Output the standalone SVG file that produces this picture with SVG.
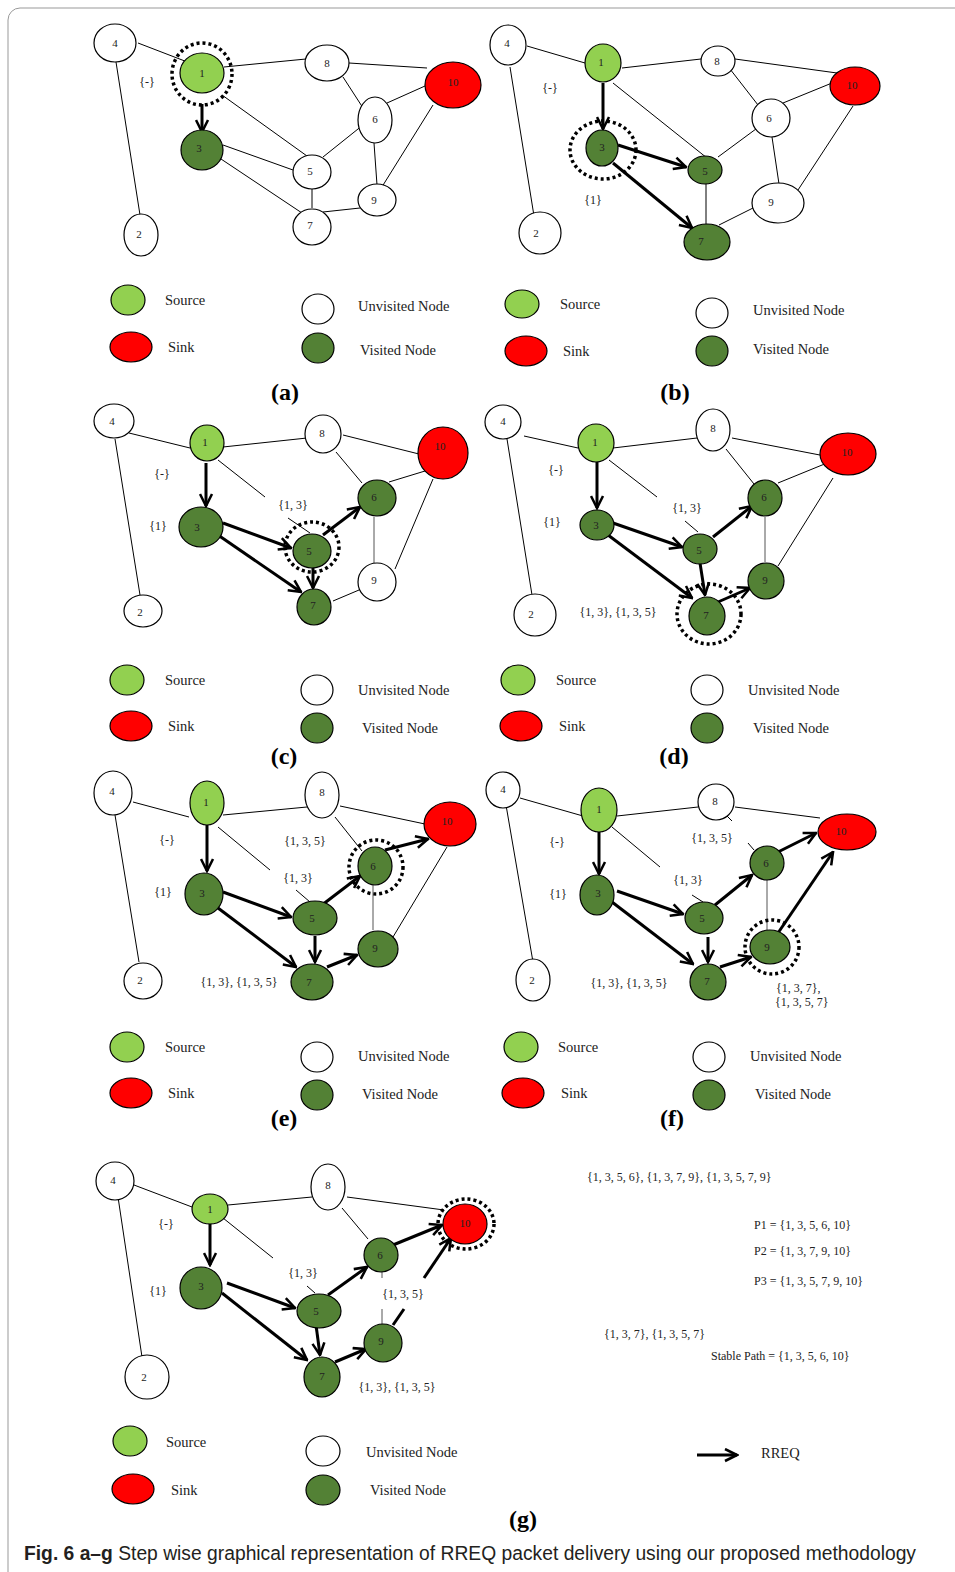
<svg xmlns="http://www.w3.org/2000/svg" width="955" height="1572" viewBox="0 0 955 1572">
<style>
.e{stroke:#000;stroke-width:1;fill:none}
.gr{stroke:#555;stroke-width:1;fill:none}
.a{stroke:#000;stroke-width:3;fill:none;marker-end:url(#ah)}
.w{fill:#fff;stroke:#000;stroke-width:1.2}
.s{fill:#92D050;stroke:#000;stroke-width:1.2}
.r{fill:#FF0000;stroke:#000;stroke-width:1.2}
.v{fill:#538135;stroke:#000;stroke-width:1.2}
.ring{fill:none;stroke:#000;stroke-width:3.5;stroke-dasharray:3 3}
text{font-family:"Liberation Serif","Times New Roman",serif;fill:#222}
.t{font-size:11px;text-anchor:middle;dominant-baseline:central}
.l{font-size:12px;text-anchor:middle;dominant-baseline:central}
.rt{font-size:12px}
.lg{font-size:14.5px}
.sub{font-size:24px;font-weight:bold;text-anchor:middle;fill:#000}
.cap{font-family:"Liberation Sans",Arial,sans-serif;font-size:20px;fill:#231f20}
</style>
<defs>
<marker id="ah" viewBox="0 0 10 10" refX="9" refY="5" markerWidth="5" markerHeight="5" orient="auto">
<path d="M1,1 L9,5 L1,9" fill="none" stroke="#000" stroke-width="1.7"/>
</marker>
</defs>
<path d="M8,1572 V20 A12,12 0 0 1 20,8 H955" fill="none" stroke="#999" stroke-width="1"/>

<!-- ===== Panel a ===== -->
<g id="conn-a">
<line class="e" x1="138" y1="43" x2="190" y2="63"/>
<line class="e" x1="116" y1="62" x2="140" y2="215"/>
<line class="e" x1="224" y1="67" x2="306" y2="59"/>
<line class="e" x1="222" y1="95" x2="307" y2="156"/>
<line class="e" x1="349" y1="63" x2="427" y2="68"/>
<line class="e" x1="343" y1="77" x2="365" y2="111"/>
<line class="e" x1="387" y1="103" x2="425" y2="86"/>
<line class="e" x1="363" y1="125" x2="323" y2="157"/>
<line class="e" x1="374" y1="143" x2="377" y2="185"/>
<line class="e" x1="380" y1="190" x2="433" y2="105"/>
<line class="e" x1="223" y1="145" x2="293" y2="170"/>
<line class="e" x1="218" y1="157" x2="302" y2="213"/>
<line class="e" x1="312" y1="188" x2="312" y2="208"/>
<line class="e" x1="323" y1="212" x2="360" y2="208"/>
<line class="a" x1="202" y1="104" x2="202" y2="132"/>
</g>
<g id="a-n4"><ellipse class="w" cx="115" cy="43" rx="21" ry="19"/><text class="t" x="115" y="43">4</text></g>
<g id="a-n1"><ellipse class="s" cx="202" cy="73" rx="22" ry="20"/><ellipse class="ring" cx="202" cy="74" rx="30" ry="31"/><text class="t" x="202" y="73">1</text></g>
<g id="a-n8"><ellipse class="w" cx="327" cy="63" rx="22" ry="18"/><text class="t" x="327" y="63">8</text></g>
<g id="a-n10"><ellipse class="r" cx="453" cy="85" rx="28" ry="23"/><text class="t" x="453" y="82">10</text></g>
<g id="a-n6"><ellipse class="w" cx="375" cy="120" rx="17" ry="23"/><text class="t" x="375" y="119">6</text></g>
<g id="a-n3"><ellipse class="v" cx="202" cy="150" rx="21" ry="20"/><text class="t" x="199" y="148">3</text></g>
<g id="a-n5"><ellipse class="w" cx="312" cy="172" rx="19" ry="17"/><text class="t" x="310" y="171">5</text></g>
<g id="a-n9"><ellipse class="w" cx="377" cy="200" rx="19" ry="16"/><text class="t" x="374" y="200">9</text></g>
<g id="a-n7"><ellipse class="w" cx="312" cy="227" rx="19" ry="18"/><text class="t" x="310" y="225">7</text></g>
<g id="a-n2"><ellipse class="w" cx="141" cy="235" rx="17" ry="21"/><text class="t" x="139" y="234">2</text></g>
<text class="l" x="147" y="82">{-}</text>
<g id="legend-a">
<ellipse class="s" cx="128" cy="300" rx="17" ry="15"/><text class="lg" x="165" y="305">Source</text>
<ellipse class="r" cx="131" cy="347" rx="21" ry="15"/><text class="lg" x="168" y="352">Sink</text>
<ellipse class="w" cx="318" cy="309" rx="16" ry="15"/><text class="lg" x="358" y="311">Unvisited Node</text>
<ellipse class="v" cx="318" cy="348" rx="16" ry="15"/><text class="lg" x="360" y="355">Visited Node</text>
<text class="sub" x="285" y="400">(a)</text>
</g>

<!-- ===== Panel b ===== -->
<g id="conn-b">
<line class="e" x1="527" y1="46" x2="585" y2="63"/>
<line class="e" x1="510" y1="67" x2="534" y2="216"/>
<line class="e" x1="622" y1="68" x2="701" y2="59"/>
<line class="e" x1="613" y1="83" x2="707" y2="158"/>
<line class="e" x1="735" y1="59" x2="837" y2="73"/>
<line class="e" x1="730" y1="69" x2="758" y2="105"/>
<line class="e" x1="783" y1="103" x2="832" y2="83"/>
<line class="e" x1="760" y1="126" x2="718" y2="157"/>
<line class="e" x1="772" y1="137" x2="779" y2="184"/>
<line class="e" x1="798" y1="190" x2="853" y2="106"/>
<line class="e" x1="706" y1="183" x2="706" y2="224"/>
<line class="e" x1="719" y1="225" x2="753" y2="208"/>
<line class="a" x1="603" y1="83" x2="603" y2="129"/>
<line class="a" x1="618" y1="145" x2="686" y2="167"/>
<line class="a" x1="613" y1="163" x2="692" y2="228"/>
</g>
<g id="b-n4"><ellipse class="w" cx="508" cy="45" rx="18" ry="20"/><text class="t" x="507" y="43">4</text></g>
<g id="b-n1"><ellipse class="s" cx="603" cy="63" rx="18" ry="19"/><text class="t" x="601" y="62">1</text></g>
<g id="b-n8"><ellipse class="w" cx="718" cy="61" rx="17" ry="15"/><text class="t" x="717" y="61">8</text></g>
<g id="b-n10"><ellipse class="r" cx="855" cy="86" rx="25" ry="19"/><text class="t" x="852" y="85">10</text></g>
<g id="b-n6"><ellipse class="w" cx="771" cy="118" rx="19" ry="19"/><text class="t" x="769" y="118">6</text></g>
<g id="b-n3"><ellipse class="v" cx="602" cy="148" rx="16" ry="18"/><ellipse class="ring" cx="603" cy="150" rx="33" ry="29"/><text class="t" x="602" y="147">3</text></g>
<g id="b-n5"><ellipse class="v" cx="705" cy="170" rx="17" ry="14"/><text class="t" x="705" y="171">5</text></g>
<g id="b-n9"><ellipse class="w" cx="778" cy="203" rx="26" ry="20"/><text class="t" x="771" y="202">9</text></g>
<g id="b-n7"><ellipse class="v" cx="707" cy="242" rx="23" ry="18"/><text class="t" x="701" y="241">7</text></g>
<g id="b-n2"><ellipse class="w" cx="540" cy="233" rx="21" ry="21"/><text class="t" x="536" y="233">2</text></g>
<text class="l" x="550" y="88">{-}</text>
<text class="l" x="593" y="200">{1}</text>
<g id="legend-b">
<ellipse class="s" cx="522" cy="304" rx="17" ry="14"/><text class="lg" x="560" y="309">Source</text>
<ellipse class="r" cx="526" cy="351" rx="21" ry="15"/><text class="lg" x="563" y="356">Sink</text>
<ellipse class="w" cx="712" cy="313" rx="16" ry="15"/><text class="lg" x="753" y="315">Unvisited Node</text>
<ellipse class="v" cx="712" cy="351" rx="16" ry="15"/><text class="lg" x="753" y="354">Visited Node</text>
<text class="sub" x="675" y="400">(b)</text>
</g>

<!-- ===== Panel c ===== -->
<g id="conn-c">
<line class="e" x1="129" y1="433" x2="190" y2="448"/>
<line class="e" x1="115" y1="439" x2="140" y2="595"/>
<line class="e" x1="223" y1="447" x2="307" y2="438"/>
<line class="e" x1="218" y1="460" x2="265" y2="497"/>
<line class="e" x1="288" y1="518" x2="310" y2="533"/>
<line class="e" x1="343" y1="435" x2="419" y2="454"/>
<line class="e" x1="336" y1="452" x2="362" y2="483"/>
<line class="e" x1="389" y1="482" x2="425" y2="471"/>
<line class="gr" x1="374" y1="517" x2="374" y2="563"/>
<line class="e" x1="395" y1="569" x2="433" y2="479"/>
<line class="e" x1="333" y1="601" x2="359" y2="590"/>
<line class="a" x1="206" y1="463" x2="206" y2="506"/>
<line class="a" x1="223" y1="523" x2="291" y2="548"/>
<line class="a" x1="218" y1="535" x2="301" y2="592"/>
<line class="a" x1="323" y1="535" x2="360" y2="507"/>
<line class="a" x1="313" y1="566" x2="313" y2="588"/>
</g>
<g id="c-n4"><ellipse class="w" cx="114" cy="421" rx="20" ry="17"/><text class="t" x="112" y="421">4</text></g>
<g id="c-n1"><ellipse class="s" cx="207" cy="443" rx="17" ry="18"/><text class="t" x="205" y="442">1</text></g>
<g id="c-n8"><ellipse class="w" cx="323" cy="434" rx="18" ry="19"/><text class="t" x="322" y="433">8</text></g>
<g id="c-n10"><ellipse class="r" cx="443" cy="453" rx="25" ry="26"/><text class="t" x="440" y="446">10</text></g>
<g id="c-n6"><ellipse class="v" cx="377" cy="498" rx="19" ry="18"/><text class="t" x="374" y="497">6</text></g>
<g id="c-n3"><ellipse class="v" cx="201" cy="527" rx="22" ry="20"/><text class="t" x="197" y="527">3</text></g>
<g id="c-n5"><ellipse class="v" cx="312" cy="551" rx="19" ry="17"/><ellipse class="ring" cx="312" cy="547" rx="27" ry="25"/><text class="t" x="309" y="551">5</text></g>
<g id="c-n9"><ellipse class="w" cx="377" cy="582" rx="19" ry="19"/><text class="t" x="374" y="580">9</text></g>
<g id="c-n7"><ellipse class="v" cx="314" cy="607" rx="17" ry="18"/><text class="t" x="313" y="605">7</text></g>
<g id="c-n2"><ellipse class="w" cx="143" cy="611" rx="19" ry="16"/><text class="t" x="140" y="612">2</text></g>
<text class="l" x="162" y="474">{-}</text>
<text class="l" x="158" y="526">{1}</text>
<text class="l" x="293" y="505">{1, 3}</text>
<g id="legend-c">
<ellipse class="s" cx="127" cy="680" rx="17" ry="15"/><text class="lg" x="165" y="685">Source</text>
<ellipse class="r" cx="131" cy="726" rx="21" ry="15"/><text class="lg" x="168" y="731">Sink</text>
<ellipse class="w" cx="317" cy="690" rx="16" ry="15"/><text class="lg" x="358" y="695">Unvisited Node</text>
<ellipse class="v" cx="317" cy="728" rx="16" ry="15"/><text class="lg" x="362" y="733">Visited Node</text>
<text class="sub" x="284" y="764">(c)</text>
</g>

<!-- ===== Panel d ===== -->
<g id="conn-d">
<line class="e" x1="524" y1="436" x2="578" y2="448"/>
<line class="e" x1="507" y1="439" x2="532" y2="595"/>
<line class="e" x1="613" y1="448" x2="697" y2="438"/>
<line class="e" x1="609" y1="460" x2="657" y2="497"/>
<line class="e" x1="685" y1="521" x2="698" y2="532"/>
<line class="e" x1="732" y1="438" x2="825" y2="456"/>
<line class="e" x1="726" y1="449" x2="754" y2="484"/>
<line class="e" x1="778" y1="483" x2="827" y2="463"/>
<line class="gr" x1="765" y1="517" x2="765" y2="562"/>
<line class="e" x1="778" y1="566" x2="833" y2="478"/>
<line class="a" x1="597" y1="462" x2="597" y2="508"/>
<line class="a" x1="613" y1="523" x2="682" y2="547"/>
<line class="a" x1="608" y1="535" x2="692" y2="598"/>
<line class="a" x1="713" y1="537" x2="752" y2="506"/>
<line class="a" x1="700" y1="563" x2="705" y2="595"/>
<line class="a" x1="718" y1="602" x2="750" y2="588"/>
</g>
<g id="d-n4"><ellipse class="w" cx="503" cy="422" rx="18" ry="17"/><text class="t" x="503" y="421">4</text></g>
<g id="d-n1"><ellipse class="s" cx="596" cy="443" rx="18" ry="19"/><text class="t" x="595" y="442">1</text></g>
<g id="d-n8"><ellipse class="w" cx="713" cy="430" rx="17" ry="21"/><text class="t" x="713" y="428">8</text></g>
<g id="d-n10"><ellipse class="r" cx="848" cy="454" rx="28" ry="21"/><text class="t" x="847" y="452">10</text></g>
<g id="d-n6"><ellipse class="v" cx="765" cy="498" rx="17" ry="18"/><text class="t" x="764" y="497">6</text></g>
<g id="d-n3"><ellipse class="v" cx="597" cy="525" rx="17" ry="15"/><text class="t" x="596" y="525">3</text></g>
<g id="d-n5"><ellipse class="v" cx="700" cy="549" rx="17" ry="15"/><text class="t" x="699" y="550">5</text></g>
<g id="d-n9"><ellipse class="v" cx="766" cy="581" rx="18" ry="18"/><text class="t" x="765" y="580">9</text></g>
<g id="d-n7"><ellipse class="v" cx="707" cy="616" rx="18" ry="19"/><ellipse class="ring" cx="709" cy="614" rx="32" ry="30"/><text class="t" x="706" y="615">7</text></g>
<g id="d-n2"><ellipse class="w" cx="535" cy="615" rx="21" ry="21"/><text class="t" x="531" y="614">2</text></g>
<text class="l" x="556" y="470">{-}</text>
<text class="l" x="552" y="522">{1}</text>
<text class="l" x="687" y="508">{1, 3}</text>
<text class="l" x="618" y="612">{1, 3}, {1, 3, 5}</text>
<g id="legend-d">
<ellipse class="s" cx="518" cy="680" rx="17" ry="15"/><text class="lg" x="556" y="685">Source</text>
<ellipse class="r" cx="521" cy="726" rx="21" ry="15"/><text class="lg" x="559" y="731">Sink</text>
<ellipse class="w" cx="707" cy="690" rx="16" ry="15"/><text class="lg" x="748" y="695">Unvisited Node</text>
<ellipse class="v" cx="707" cy="728" rx="16" ry="15"/><text class="lg" x="753" y="733">Visited Node</text>
<text class="sub" x="674" y="764">(d)</text>
</g>

<!-- ===== Panel e ===== -->
<g id="conn-e">
<line class="e" x1="133" y1="802" x2="189" y2="817"/>
<line class="e" x1="115" y1="815" x2="139" y2="962"/>
<line class="e" x1="223" y1="815" x2="307" y2="807"/>
<line class="e" x1="218" y1="827" x2="270" y2="870"/>
<line class="e" x1="296" y1="890" x2="310" y2="902"/>
<line class="e" x1="340" y1="806" x2="425" y2="824"/>
<line class="e" x1="335" y1="817" x2="362" y2="851"/>
<line class="gr" x1="373" y1="885" x2="373" y2="930"/>
<line class="e" x1="393" y1="937" x2="447" y2="847"/>
<line class="a" x1="207" y1="825" x2="207" y2="871"/>
<line class="a" x1="223" y1="892" x2="291" y2="917"/>
<line class="a" x1="218" y1="908" x2="296" y2="967"/>
<line class="a" x1="322" y1="905" x2="360" y2="876"/>
<line class="a" x1="315" y1="936" x2="315" y2="962"/>
<line class="a" x1="327" y1="967" x2="357" y2="955"/>
<line class="a" x1="385" y1="850" x2="428" y2="839"/>
</g>
<g id="e-n4"><ellipse class="w" cx="113" cy="793" rx="19" ry="22"/><text class="t" x="112" y="791">4</text></g>
<g id="e-n1"><ellipse class="s" cx="207" cy="803" rx="17" ry="22"/><text class="t" x="206" y="802">1</text></g>
<g id="e-n8"><ellipse class="w" cx="322" cy="795" rx="17" ry="23"/><text class="t" x="322" y="792">8</text></g>
<g id="e-n10"><ellipse class="r" cx="450" cy="824" rx="26" ry="22"/><text class="t" x="447" y="821">10</text></g>
<g id="e-n6"><ellipse class="v" cx="375" cy="866" rx="17" ry="19"/><ellipse class="ring" cx="376" cy="867" rx="27" ry="27"/><text class="t" x="373" y="866">6</text></g>
<g id="e-n3"><ellipse class="v" cx="204" cy="894" rx="19" ry="21"/><text class="t" x="202" y="893">3</text></g>
<g id="e-n5"><ellipse class="v" cx="315" cy="918" rx="22" ry="17"/><text class="t" x="312" y="918">5</text></g>
<g id="e-n9"><ellipse class="v" cx="378" cy="949" rx="20" ry="18"/><text class="t" x="375" y="948">9</text></g>
<g id="e-n7"><ellipse class="v" cx="312" cy="982" rx="21" ry="18"/><text class="t" x="309" y="982">7</text></g>
<g id="e-n2"><ellipse class="w" cx="143" cy="981" rx="19" ry="18"/><text class="t" x="140" y="980">2</text></g>
<text class="l" x="167" y="840">{-}</text>
<text class="l" x="163" y="892">{1}</text>
<text class="l" x="305" y="841">{1, 3, 5}</text>
<text class="l" x="298" y="878">{1, 3}</text>
<text class="l" x="239" y="982">{1, 3}, {1, 3, 5}</text>
<g id="legend-e">
<ellipse class="s" cx="127" cy="1047" rx="17" ry="15"/><text class="lg" x="165" y="1052">Source</text>
<ellipse class="r" cx="131" cy="1093" rx="21" ry="15"/><text class="lg" x="168" y="1098">Sink</text>
<ellipse class="w" cx="317" cy="1057" rx="16" ry="15"/><text class="lg" x="358" y="1061">Unvisited Node</text>
<ellipse class="v" cx="317" cy="1095" rx="16" ry="15"/><text class="lg" x="362" y="1099">Visited Node</text>
<text class="sub" x="284" y="1126">(e)</text>
</g>

<!-- ===== Panel f ===== -->
<g id="conn-f">
<line class="e" x1="520" y1="798" x2="583" y2="816"/>
<line class="e" x1="506" y1="805" x2="533" y2="962"/>
<line class="e" x1="617" y1="816" x2="698" y2="807"/>
<line class="e" x1="612" y1="827" x2="660" y2="867"/>
<line class="e" x1="692" y1="895" x2="703" y2="902"/>
<line class="e" x1="735" y1="807" x2="820" y2="818"/>
<line class="e" x1="727" y1="816" x2="732" y2="821"/>
<line class="e" x1="748" y1="843" x2="754" y2="850"/>
<line class="gr" x1="767" y1="872" x2="767" y2="930"/>
<line class="a" x1="599" y1="832" x2="599" y2="874"/>
<line class="a" x1="617" y1="891" x2="683" y2="914"/>
<line class="a" x1="612" y1="902" x2="693" y2="964"/>
<line class="a" x1="715" y1="905" x2="752" y2="875"/>
<line class="a" x1="708" y1="937" x2="708" y2="962"/>
<line class="a" x1="720" y1="967" x2="751" y2="957"/>
<line class="a" x1="778" y1="852" x2="816" y2="833"/>
<line class="a" x1="778" y1="933" x2="833" y2="852"/>
</g>
<g id="f-n4"><ellipse class="w" cx="503" cy="790" rx="17" ry="18"/><text class="t" x="503" y="789">4</text></g>
<g id="f-n1"><ellipse class="s" cx="599" cy="810" rx="18" ry="22"/><text class="t" x="599" y="809">1</text></g>
<g id="f-n8"><ellipse class="w" cx="716" cy="802" rx="18" ry="18"/><text class="t" x="715" y="801">8</text></g>
<g id="f-n10"><ellipse class="r" cx="847" cy="832" rx="29" ry="18"/><text class="t" x="841" y="831">10</text></g>
<g id="f-n6"><ellipse class="v" cx="767" cy="863" rx="17" ry="17"/><text class="t" x="766" y="863">6</text></g>
<g id="f-n3"><ellipse class="v" cx="597" cy="895" rx="17" ry="20"/><text class="t" x="598" y="893">3</text></g>
<g id="f-n5"><ellipse class="v" cx="704" cy="918" rx="19" ry="16"/><text class="t" x="702" y="918">5</text></g>
<g id="f-n9"><ellipse class="v" cx="770" cy="947" rx="20" ry="17"/><ellipse class="ring" cx="772" cy="947" rx="27" ry="27"/><text class="t" x="767" y="947">9</text></g>
<g id="f-n7"><ellipse class="v" cx="708" cy="982" rx="18" ry="18"/><text class="t" x="707" y="981">7</text></g>
<g id="f-n2"><ellipse class="w" cx="533" cy="980" rx="17" ry="21"/><text class="t" x="532" y="980">2</text></g>
<text class="l" x="557" y="842">{-}</text>
<text class="l" x="558" y="894">{1}</text>
<text class="l" x="712" y="838">{1, 3, 5}</text>
<text class="l" x="688" y="880">{1, 3}</text>
<text class="l" x="629" y="983">{1, 3}, {1, 3, 5}</text>
<text class="rt" x="776" y="992">{1, 3, 7},</text>
<text class="rt" x="775" y="1006">{1, 3, 5, 7}</text>
<g id="legend-f">
<ellipse class="s" cx="521" cy="1047" rx="17" ry="15"/><text class="lg" x="558" y="1052">Source</text>
<ellipse class="r" cx="523" cy="1093" rx="21" ry="15"/><text class="lg" x="561" y="1098">Sink</text>
<ellipse class="w" cx="709" cy="1057" rx="16" ry="15"/><text class="lg" x="750" y="1061">Unvisited Node</text>
<ellipse class="v" cx="709" cy="1095" rx="16" ry="15"/><text class="lg" x="755" y="1099">Visited Node</text>
<text class="sub" x="672" y="1126">(f)</text>
</g>

<!-- ===== Panel g ===== -->
<g id="conn-g">
<line class="e" x1="134" y1="1185" x2="192" y2="1207"/>
<line class="e" x1="118" y1="1197" x2="142" y2="1357"/>
<line class="e" x1="228" y1="1205" x2="312" y2="1197"/>
<line class="e" x1="223" y1="1218" x2="273" y2="1258"/>
<line class="e" x1="307" y1="1286" x2="315" y2="1293"/>
<line class="e" x1="347" y1="1197" x2="444" y2="1210"/>
<line class="e" x1="342" y1="1208" x2="368" y2="1239"/>
<line class="gr" x1="382" y1="1271" x2="382" y2="1278"/>
<line class="gr" x1="382" y1="1309" x2="382" y2="1325"/>
<line class="a" x1="210" y1="1222" x2="210" y2="1265"/>
<line class="a" x1="227" y1="1283" x2="295" y2="1308"/>
<line class="a" x1="222" y1="1293" x2="307" y2="1360"/>
<line class="a" x1="328" y1="1295" x2="367" y2="1267"/>
<line class="a" x1="316" y1="1325" x2="320" y2="1355"/>
<line class="a" x1="335" y1="1362" x2="366" y2="1349"/>
<line class="a" x1="393" y1="1245" x2="442" y2="1225"/>
<line class="e" style="stroke-width:3" x1="393" y1="1325" x2="404" y2="1309"/>
<line class="a" x1="424" y1="1278" x2="451" y2="1238"/>
</g>
<g id="g-n4"><ellipse class="w" cx="115" cy="1181" rx="19" ry="19"/><text class="t" x="113" y="1180">4</text></g>
<g id="g-n1"><ellipse class="s" cx="210" cy="1209" rx="18" ry="15"/><text class="t" x="210" y="1209">1</text></g>
<g id="g-n8"><ellipse class="w" cx="328" cy="1187" rx="17" ry="23"/><text class="t" x="328" y="1185">8</text></g>
<g id="g-n10"><ellipse class="r" cx="465" cy="1224" rx="22" ry="20"/><ellipse class="ring" cx="466" cy="1224" rx="28" ry="25"/><text class="t" x="465" y="1223">10</text></g>
<g id="g-n6"><ellipse class="v" cx="381" cy="1255" rx="17" ry="17"/><text class="t" x="380" y="1255">6</text></g>
<g id="g-n3"><ellipse class="v" cx="201" cy="1288" rx="21" ry="21"/><text class="t" x="201" y="1286">3</text></g>
<g id="g-n5"><ellipse class="v" cx="319" cy="1311" rx="22" ry="17"/><text class="t" x="316" y="1311">5</text></g>
<g id="g-n9"><ellipse class="v" cx="383" cy="1343" rx="19" ry="19"/><text class="t" x="381" y="1341">9</text></g>
<g id="g-n7"><ellipse class="v" cx="322" cy="1377" rx="18" ry="20"/><text class="t" x="322" y="1376">7</text></g>
<g id="g-n2"><ellipse class="w" cx="147" cy="1377" rx="22" ry="22"/><text class="t" x="144" y="1377">2</text></g>
<text class="l" x="166" y="1224">{-}</text>
<text class="l" x="158" y="1291">{1}</text>
<text class="l" x="303" y="1273">{1, 3}</text>
<text class="l" x="403" y="1294">{1, 3, 5}</text>
<text class="l" x="397" y="1387">{1, 3}, {1, 3, 5}</text>
<g id="paths-g">
<text class="rt" x="587" y="1181">{1, 3, 5, 6}, {1, 3, 7, 9}, {1, 3, 5, 7, 9}</text>
<text class="rt" x="754" y="1229">P1 = {1, 3, 5, 6, 10}</text>
<text class="rt" x="754" y="1255">P2 = {1, 3, 7, 9, 10}</text>
<text class="rt" x="754" y="1285">P3 = {1, 3, 5, 7, 9, 10}</text>
<text class="rt" x="604" y="1338">{1, 3, 7}, {1, 3, 5, 7}</text>
<text class="rt" x="711" y="1360">Stable Path = {1, 3, 5, 6, 10}</text>
</g>
<g id="legend-g">
<ellipse class="s" cx="130" cy="1441" rx="17" ry="15"/><text class="lg" x="166" y="1447">Source</text>
<ellipse class="r" cx="133" cy="1489" rx="21" ry="15"/><text class="lg" x="171" y="1495">Sink</text>
<ellipse class="w" cx="323" cy="1451" rx="17" ry="15"/><text class="lg" x="366" y="1457">Unvisited Node</text>
<ellipse class="v" cx="323" cy="1490" rx="17" ry="15"/><text class="lg" x="370" y="1495">Visited Node</text>
<line class="a" x1="697" y1="1455" x2="737" y2="1455"/>
<text class="lg" x="761" y="1458">RREQ</text>
<text class="sub" x="523" y="1527">(g)</text>
</g>

<text class="cap" x="24" y="1560" textLength="892" lengthAdjust="spacingAndGlyphs"><tspan font-weight="bold">Fig. 6  a–g</tspan> Step wise graphical representation of RREQ packet delivery using our proposed methodology</text>
</svg>
